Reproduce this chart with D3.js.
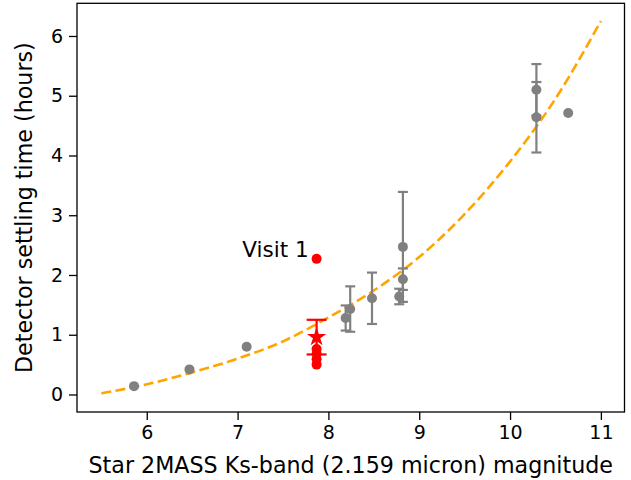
<!DOCTYPE html>
<html>
<head>
<meta charset="utf-8">
<script src="https://cdn.jsdelivr.net/npm/d3@7"></script>
<style>
  body { margin: 0; background: #fff; }
  text { font-family: "DejaVu Sans", sans-serif; }
</style>
</head>
<body>
<div id="chart"></div>
<script>
var width = 631;
var height = 480;

// grey reference stars: magnitude, settling time, error (0 = none)
var starMag  = [5.86, 6.47, 7.10, 8.19, 8.24, 8.48, 8.78, 8.82, 8.82, 10.29, 10.29, 10.64];
var starTime = [0.14, 0.42, 0.80, 1.28, 1.43, 1.61, 1.64, 1.93, 2.47, 4.64, 5.10, 4.71];
var starErr  = [0, 0, 0, 0.21, 0.38, 0.43, 0.13, 0.18, 0.92, 0.59, 0.43, 0];

// red target visits
var visitMag = 7.87;
var visitTime = [2.27, 0.76, 0.68, 0.59, 0.50];
var starMarkTime = 0.96;
var starMarkErr = 0.29;

// dashed fit curve
var fitMag  = [5.5, 6.0, 6.5, 7.0, 7.5, 8.0, 8.5, 9.0, 9.5, 10.0, 10.5, 11.0];
var fitTime = [0.02, 0.17, 0.37, 0.60, 0.89, 1.29, 1.74, 2.30, 3.02, 3.90, 4.95, 6.25];

var xTicks = [6, 7, 8, 9, 10, 11];
var yTicks = [0, 1, 2, 3, 4, 5, 6];

var mLeft = 77, mRight = 624.5, mTop = 3.3, mBottom = 412;

var x = d3.scaleLinear().domain([5.232, 11.26]).range([mLeft, mRight]);
var y = d3.scaleLinear().domain([-0.293, 6.547]).range([mBottom, mTop]);

var svg = d3.select("#chart").append("svg")
  .attr("width", width)
  .attr("height", height);

// fit curve
var line = d3.line()
  .x(function(d, i) { return x(fitMag[i]); })
  .y(function(d) { return y(d); })
  .curve(d3.curveMonotoneX);

svg.append("path")
  .datum(fitTime)
  .attr("d", line)
  .attr("fill", "none")
  .attr("stroke", "#ffa500")
  .attr("stroke-width", 2.6)
  .attr("stroke-dasharray", "10,4.4");

// grey error bars
var grey = "#808080";
var bars = svg.append("g");
starErr.forEach(function(e, i) {
  if (!e) return;
  var cx = x(starMag[i]);
  bars.append("line")
    .attr("x1", cx).attr("x2", cx)
    .attr("y1", y(starTime[i] - e)).attr("y2", y(starTime[i] + e))
    .attr("stroke", grey).attr("stroke-width", 2.2);
  [starTime[i] - e, starTime[i] + e].forEach(function(v) {
    bars.append("line")
      .attr("x1", cx - 5).attr("x2", cx + 5)
      .attr("y1", y(v)).attr("y2", y(v))
      .attr("stroke", grey).attr("stroke-width", 2.2);
  });
});

svg.append("g").selectAll("circle")
  .data(starTime)
  .enter().append("circle")
  .attr("cx", function(d, i) { return x(starMag[i]); })
  .attr("cy", function(d) { return y(d); })
  .attr("r", 5)
  .attr("fill", grey);

// red visits
var red = "#ff0000";
var vx = x(visitMag);
svg.append("line")
  .attr("x1", vx).attr("x2", vx)
  .attr("y1", y(starMarkTime - starMarkErr)).attr("y2", y(starMarkTime + starMarkErr))
  .attr("stroke", red).attr("stroke-width", 2.2);
[starMarkTime - starMarkErr, starMarkTime + starMarkErr].forEach(function(v) {
  svg.append("line")
    .attr("x1", vx - 10).attr("x2", vx + 10)
    .attr("y1", y(v)).attr("y2", y(v))
    .attr("stroke", red).attr("stroke-width", 2.2);
});

svg.append("g").selectAll("circle")
  .data(visitTime)
  .enter().append("circle")
  .attr("cx", vx)
  .attr("cy", function(d) { return y(d); })
  .attr("r", 5)
  .attr("fill", red);

svg.append("path")
  .attr("d", d3.symbol().type(d3.symbolStar).size(115)())
  .attr("transform", "translate(" + vx + "," + y(starMarkTime) + ")")
  .attr("fill", red);

svg.append("text")
  .attr("x", vx - 8)
  .attr("y", y(visitTime[0]) - 2)
  .attr("text-anchor", "end")
  .attr("font-size", 21.5)
  .attr("fill", "#000")
  .text("Visit 1");

// axes
var xAxis = d3.axisBottom(x).tickValues(xTicks).tickSize(8).tickPadding(6)
  .tickFormat(d3.format("d"));
var yAxis = d3.axisLeft(y).tickValues(yTicks).tickSize(8).tickPadding(6)
  .tickFormat(d3.format("d"));

var gx = svg.append("g").attr("transform", "translate(0," + mBottom + ")").call(xAxis);
var gy = svg.append("g").attr("transform", "translate(" + mLeft + ",0)").call(yAxis);
[gx, gy].forEach(function(g) {
  g.attr("font-size", null).attr("font-family", null);
  g.select(".domain").remove();
  g.selectAll(".tick line").attr("stroke", "#000").attr("stroke-width", 1.3);
  g.selectAll(".tick text").attr("font-size", 19).attr("fill", "#000");
});

svg.append("rect")
  .attr("x", mLeft).attr("y", mTop)
  .attr("width", mRight - mLeft).attr("height", mBottom - mTop)
  .attr("fill", "none")
  .attr("stroke", "#000")
  .attr("stroke-width", 1.3);

svg.append("text")
  .attr("x", (mLeft + mRight) / 2)
  .attr("y", 473)
  .attr("text-anchor", "middle")
  .attr("font-size", 22.2)
  .text("Star 2MASS Ks-band (2.159 micron) magnitude");

svg.append("text")
  .attr("transform", "translate(32," + (mTop + mBottom) / 2 + ") rotate(-90)")
  .attr("text-anchor", "middle")
  .attr("font-size", 22.2)
  .text("Detector settling time (hours)");
</script>
</body>
</html>
